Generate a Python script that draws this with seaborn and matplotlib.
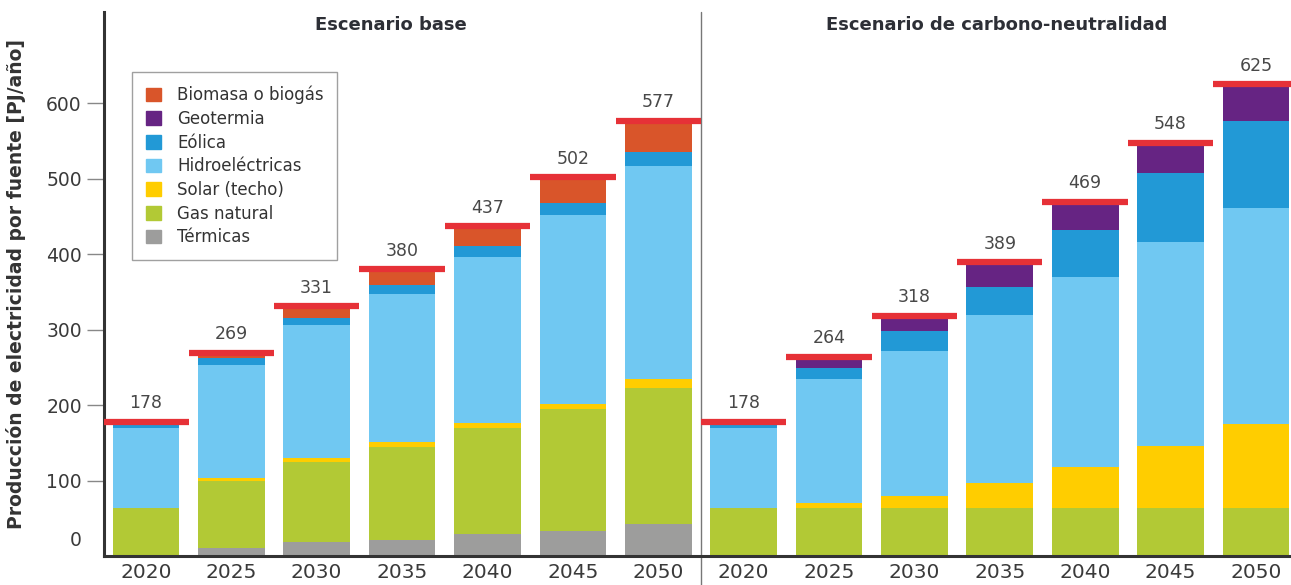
import numpy as np
import pandas as pd
import matplotlib
matplotlib.use("Agg")
import matplotlib.pyplot as plt
import matplotlib.patches as mpatches
import matplotlib.transforms as mtransforms
import seaborn as sns

# ── DATA (PJ/año) ───────────────────────────────────────────
years = ["2020", "2025", "2030", "2035", "2040", "2045", "2050"]
scenarios = ["Escenario base", "Escenario de carbono-neutralidad"]

# Escenario base
termicas_base = [0, 10, 18, 21, 29, 33, 42]
gas_base = [63, 89, 106, 124, 140, 162, 180]
solar_base = [0, 4, 6, 6, 7, 7, 13]
hidro_base = [106, 150, 176, 196, 220, 250, 282]
eolica_base = [9, 9, 10, 12, 15, 16, 18]
geotermia_base = [0, 0, 0, 0, 0, 0, 0]
biomasa_base = [0, 7, 15, 21, 26, 34, 42]
totales_base = [178, 269, 331, 380, 437, 502, 577]

# Escenario de carbono-neutralidad
termicas_cn = [0, 0, 0, 0, 0, 0, 0]
gas_cn = [63, 63, 63, 63, 63, 63, 63]
solar_cn = [0, 7, 16, 34, 55, 83, 112]
hidro_cn = [106, 164, 193, 223, 252, 270, 286]
eolica_cn = [9, 15, 26, 36, 62, 91, 116]
geotermia_cn = [0, 15, 20, 33, 37, 41, 48]
biomasa_cn = [0, 0, 0, 0, 0, 0, 0]
totales_cn = [178, 264, 318, 389, 469, 548, 625]

# stacking order, bottom -> top
fuentes = ["Térmicas", "Gas natural", "Solar (techo)", "Hidroeléctricas",
           "Eólica", "Geotermia", "Biomasa o biogás"]
colores = {
    "Térmicas": "#9d9d9c",
    "Gas natural": "#b2c935",
    "Solar (techo)": "#ffcd00",
    "Hidroeléctricas": "#70c8f2",
    "Eólica": "#2299d6",
    "Geotermia": "#662483",
    "Biomasa o biogás": "#d9552a",
}

df = pd.DataFrame({
    "pos": np.arange(14),
    "year": years + years,
    "Térmicas": termicas_base + termicas_cn,
    "Gas natural": gas_base + gas_cn,
    "Solar (techo)": solar_base + solar_cn,
    "Hidroeléctricas": hidro_base + hidro_cn,
    "Eólica": eolica_base + eolica_cn,
    "Geotermia": geotermia_base + geotermia_cn,
    "Biomasa o biogás": biomasa_base + biomasa_cn,
    "total": totales_base + totales_cn,
})
cum = df[fuentes].cumsum(axis=1)

# ── PLOT ────────────────────────────────────────────────────
sns.set_theme(style="white")
plt.rcParams["font.family"] = ["DejaVu Sans"]

fig = plt.figure(figsize=(12.91, 5.85), dpi=100)
ax = fig.add_axes([104 / 1291, 29 / 585, 1187 / 1291, 544 / 585])

# draw cumulative layers from top to bottom so lower ones overlap
for fuente in reversed(fuentes):
    sns.barplot(x=df["pos"], y=cum[fuente], native_scale=True, width=0.78,
                color=colores[fuente], saturation=1, linewidth=0, ax=ax)

# red total markers + labels
ax.hlines(df["total"], df["pos"] - 0.5, df["pos"] + 0.5,
          color="#e63137", lw=4.5, zorder=5)
for p, t in zip(df["pos"], df["total"]):
    ax.annotate(f"{t}", (p, t), xytext=(0, 7), textcoords="offset points",
                ha="center", va="bottom", fontsize=12.5, color="#484848")

ax.set_xlim(-0.49, 13.41)
ax.set_ylim(0, 721)
ax.set_xticks(df["pos"])
ax.set_xticklabels(df["year"], fontsize=14.5, color="#3a3a3a")
ax.set_yticks(range(0, 700, 100))
ax.set_yticklabels([str(v) for v in range(0, 700, 100)], fontsize=13.5, color="#3a3a3a")
ax.tick_params(axis="x", length=0, pad=5)
ax.tick_params(axis="y", length=12, width=1, color="#888888", pad=4, left=True)
ax.yaxis.get_major_ticks()[0].tick1line.set_visible(False)
shift = mtransforms.ScaledTranslation(0, 0.18, fig.dpi_scale_trans)
lbl0 = ax.get_yticklabels()[0]
lbl0.set_transform(lbl0.get_transform() + shift)

ax.set_xlabel("")
ax.set_ylabel("Producción de electricidad por fuente [PJ/año]",
              fontsize=13.5, fontweight="bold", color="#333333")
ax.yaxis.set_label_coords(-0.066, 0.5)

for s in ["top", "right"]:
    ax.spines[s].set_visible(False)
for s in ["left", "bottom"]:
    ax.spines[s].set_color("#333333")
    ax.spines[s].set_linewidth(2.2)

# divider between scenarios
ax.axvline(6.5, ymin=-0.055, ymax=1, color="#777777", lw=1, clip_on=False)

# scenario titles
ax.text(2.87, 0.976, scenarios[0], transform=ax.get_xaxis_transform(),
        ha="center", va="center", fontsize=13, fontweight="bold", color="#2d2f36")
ax.text(9.96, 0.976, scenarios[1], transform=ax.get_xaxis_transform(),
        ha="center", va="center", fontsize=13, fontweight="bold", color="#2d2f36")

# legend (top to bottom = top of stack first)
handles = [mpatches.Patch(color=colores[f], label=f) for f in reversed(fuentes)]
leg = ax.legend(handles=handles, loc="upper left", bbox_to_anchor=(0.024, 0.889),
                fontsize=12, frameon=True, fancybox=False, handlelength=0.9,
                handleheight=0.9, handletextpad=1.0, labelspacing=0.34,
                borderpad=0.8, borderaxespad=0)
leg.get_frame().set_edgecolor("#888888")
leg.get_frame().set_linewidth(1)
for t in leg.get_texts():
    t.set_color("#333333")

plt.savefig("out.png", dpi=100)
